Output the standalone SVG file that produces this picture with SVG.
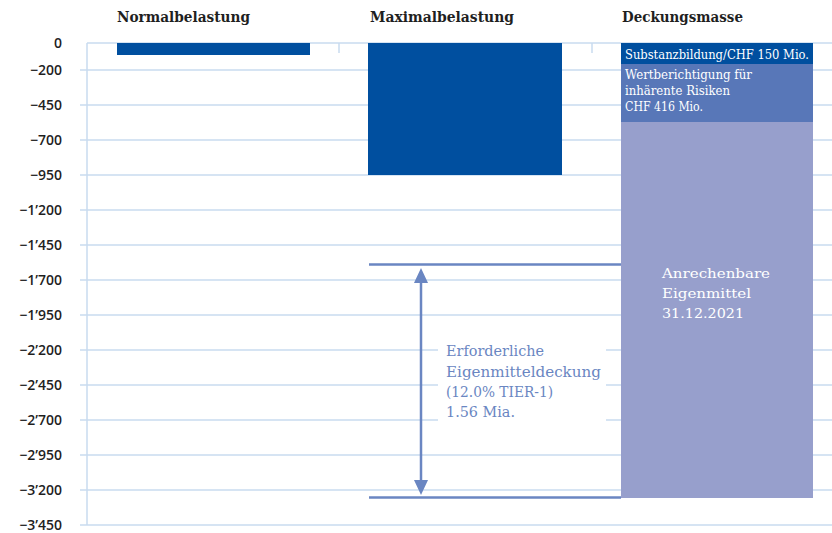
<svg xmlns="http://www.w3.org/2000/svg" width="832" height="533" viewBox="0 0 832 533">
<defs>
<style>
.grid{stroke:#c9dbef;stroke-width:1.5}
.ax{font-family:"Open Sans","Liberation Sans",sans-serif;font-weight:600;font-size:14px;fill:#1f1f1f;text-anchor:end}
.hd{font-family:"DejaVu Serif","Liberation Serif",serif;font-weight:bold;font-size:14px;fill:#1f1f1f}
.wl{font-family:"DejaVu Serif","Liberation Serif",serif;fill:#ffffff;font-size:12px}
.bl{font-family:"DejaVu Serif","Liberation Serif",serif;fill:#6a86c2;font-size:15px}
.ref{stroke:#6a86c2;stroke-width:2.5;fill:none}
.head{fill:#6a86c2}
</style>
</defs>
<rect width="832" height="533" fill="#ffffff"/>
<g id="grid">
<line class="grid" x1="87" y1="43" x2="832" y2="43"/>
<line class="grid" x1="80" y1="70" x2="832" y2="70"/>
<line class="grid" x1="80" y1="105" x2="832" y2="105"/>
<line class="grid" x1="80" y1="140" x2="832" y2="140"/>
<line class="grid" x1="80" y1="175" x2="832" y2="175"/>
<line class="grid" x1="80" y1="210" x2="832" y2="210"/>
<line class="grid" x1="80" y1="245" x2="832" y2="245"/>
<line class="grid" x1="80" y1="280" x2="832" y2="280"/>
<line class="grid" x1="80" y1="315" x2="832" y2="315"/>
<line class="grid" x1="80" y1="350" x2="832" y2="350"/>
<line class="grid" x1="80" y1="385" x2="832" y2="385"/>
<line class="grid" x1="80" y1="420" x2="832" y2="420"/>
<line class="grid" x1="80" y1="455" x2="832" y2="455"/>
<line class="grid" x1="80" y1="490" x2="832" y2="490"/>
<line class="grid" x1="80" y1="525" x2="832" y2="525"/>
<line class="grid" x1="87" y1="43" x2="87" y2="525"/>
<line class="grid" x1="339" y1="43" x2="339" y2="53"/>
<line class="grid" x1="592" y1="43" x2="592" y2="53"/>
</g>
<g id="axis-labels">
<text class="ax" x="62" y="48">0</text>
<text class="ax" x="62" y="75">−200</text>
<text class="ax" x="62" y="110">−450</text>
<text class="ax" x="62" y="145">−700</text>
<text class="ax" x="62" y="180">−950</text>
<text class="ax" x="62" y="215">−1’200</text>
<text class="ax" x="62" y="250">−1’450</text>
<text class="ax" x="62" y="285">−1’700</text>
<text class="ax" x="62" y="320">−1’950</text>
<text class="ax" x="62" y="355">−2’200</text>
<text class="ax" x="62" y="390">−2’450</text>
<text class="ax" x="62" y="425">−2’700</text>
<text class="ax" x="62" y="460">−2’950</text>
<text class="ax" x="62" y="495">−3’200</text>
<text class="ax" x="62" y="530">−3’450</text>
</g>
<g id="headers">
<text class="hd" x="117" y="22" textLength="133" lengthAdjust="spacingAndGlyphs">Normalbelastung</text>
<text class="hd" x="370" y="22" textLength="144" lengthAdjust="spacingAndGlyphs">Maximalbelastung</text>
<text class="hd" x="622" y="22" textLength="121" lengthAdjust="spacingAndGlyphs">Deckungsmasse</text>
</g>
<g id="normalbelastung">
<rect x="117" y="43" width="193" height="12" fill="#004f9f"/>
</g>
<g id="maximalbelastung">
<rect x="368" y="43" width="194" height="132" fill="#004f9f"/>
</g>
<g id="deckungsmasse">
<rect x="621" y="122" width="192" height="376" fill="#979fcc"/>
<rect x="621" y="64" width="192" height="58" fill="#5877b8"/>
<rect x="621" y="43" width="192" height="21" fill="#004f9f"/>
<text class="wl" x="625" y="59" textLength="184" lengthAdjust="spacingAndGlyphs">Substanzbildung/CHF 150 Mio.</text>
<text class="wl" x="625" y="79" textLength="127" lengthAdjust="spacingAndGlyphs">Wertberichtigung für</text>
<text class="wl" x="625" y="95" textLength="105" lengthAdjust="spacingAndGlyphs">inhärente Risiken</text>
<text class="wl" x="625" y="111" textLength="78" lengthAdjust="spacingAndGlyphs">CHF 416 Mio.</text>
<text class="wl" x="662" y="278" font-size="16" textLength="108" lengthAdjust="spacingAndGlyphs">Anrechenbare</text>
<text class="wl" x="662" y="298" font-size="16" textLength="89" lengthAdjust="spacingAndGlyphs">Eigenmittel</text>
<text class="wl" x="662" y="318" font-size="16" textLength="82" lengthAdjust="spacingAndGlyphs">31.12.2021</text>
</g>
<g id="connectors">
<line class="ref" x1="369" y1="264.5" x2="621" y2="264.5"/>
<line class="ref" x1="369" y1="497.5" x2="621" y2="497.5"/>
<line class="ref" x1="421" y1="280" x2="421" y2="483" stroke-width="2"/>
<polygon class="head" points="421,268 428,283 414,283"/>
<polygon class="head" points="421,495 428,480 414,480"/>
</g>
<g id="requirement-label">
<rect x="438" y="336" width="168" height="88" fill="#ffffff"/>
<text class="bl" x="446" y="356" textLength="98" lengthAdjust="spacingAndGlyphs">Erforderliche</text>
<text class="bl" x="446" y="377" textLength="155" lengthAdjust="spacingAndGlyphs">Eigenmitteldeckung</text>
<text class="bl" x="446" y="397" textLength="107" lengthAdjust="spacingAndGlyphs">(12.0% TIER-1)</text>
<text class="bl" x="446" y="417" textLength="69" lengthAdjust="spacingAndGlyphs">1.56 Mia.</text>
</g>
</svg>
